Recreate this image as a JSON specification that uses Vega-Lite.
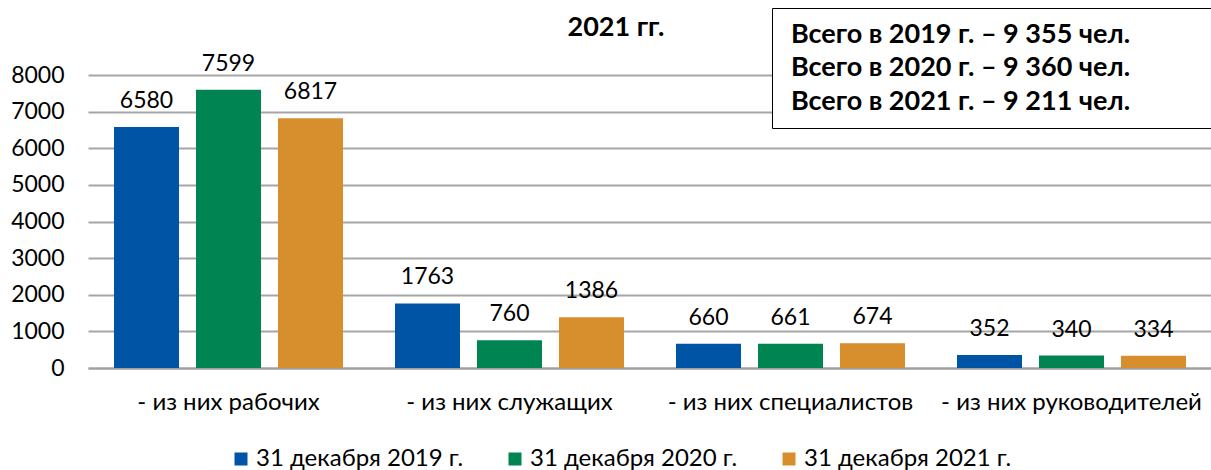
{
  "$schema": "https://vega.github.io/schema/vega-lite/v6.json",
  "width": 1124,
  "height": 293,
  "autosize": {"type": "none"},
  "padding": {"left": 88, "top": 75, "right": 0, "bottom": 102},
  "background": "white",
  "config": {
    "font": "Lato",
    "view": {"stroke": null},
    "legend": {"padding": 0}
  },
  "datasets": {
    "bars": [
      {"cat": "- из них рабочих", "series": "31 декабря 2019 г.", "value": 6580},
      {"cat": "- из них рабочих", "series": "31 декабря 2020 г.", "value": 7599},
      {"cat": "- из них рабочих", "series": "31 декабря 2021 г.", "value": 6817},
      {"cat": "- из них служащих", "series": "31 декабря 2019 г.", "value": 1763},
      {"cat": "- из них служащих", "series": "31 декабря 2020 г.", "value": 760},
      {"cat": "- из них служащих", "series": "31 декабря 2021 г.", "value": 1386},
      {"cat": "- из них специалистов", "series": "31 декабря 2019 г.", "value": 660},
      {"cat": "- из них специалистов", "series": "31 декабря 2020 г.", "value": 661},
      {"cat": "- из них специалистов", "series": "31 декабря 2021 г.", "value": 674},
      {"cat": "- из них руководителей", "series": "31 декабря 2019 г.", "value": 352},
      {"cat": "- из них руководителей", "series": "31 декабря 2020 г.", "value": 340},
      {"cat": "- из них руководителей", "series": "31 декабря 2021 г.", "value": 334}
    ],
    "notes": [
      {"note": "Всего в 2019 г. – 9 355 чел."},
      {"note": "Всего в 2020 г. – 9 360 чел."},
      {"note": "Всего в 2021 г. – 9 211 чел."}
    ]
  },
  "encoding": {
    "x": {
      "field": "cat", "type": "nominal", "sort": null,
      "scale": {
        "domain": ["- из них рабочих", "- из них служащих", "- из них специалистов", "- из них руководителей"],
        "paddingInner": 0.185, "paddingOuter": 0.0925
      },
      "axis": {
        "title": null, "labelAngle": 0, "labelFontSize": 24, "labelColor": "#000000",
        "labelPadding": 22, "ticks": false, "domainColor": "#a0a0a0", "domainWidth": 2,
        "labelLimit": 400
      }
    },
    "y": {
      "field": "value", "type": "quantitative",
      "scale": {"domain": [0, 8000], "nice": false},
      "axis": {
        "values": [0, 1000, 2000, 3000, 4000, 5000, 6000, 7000, 8000],
        "format": "d", "labelOverlap": false,
        "domain": false, "ticks": false, "labelFontSize": 23, "labelColor": "#000000",
        "labelPadding": 24, "gridColor": "#a6a6a6", "gridWidth": 2,
        "title": "2021 гг.", "titleAngle": 0, "titleX": 479, "titleY": -40,
        "titleAlign": "left", "titleBaseline": "alphabetic", "titleFontSize": 27,
        "titleFontWeight": "bold", "titleColor": "#000000"
      }
    }
  },
  "layer": [
    {
      "data": {"name": "bars"},
      "mark": {"type": "bar"},
      "encoding": {
        "xOffset": {"field": "series", "type": "nominal", "sort": null, "scale": {"paddingInner": 0.207}},
        "color": {
          "field": "series", "type": "nominal",
          "scale": {
            "domain": ["31 декабря 2019 г.", "31 декабря 2020 г.", "31 декабря 2021 г."],
            "range": ["#0054A5", "#008451", "#D68F2C"]
          },
          "legend": {
            "orient": "none", "legendX": 141, "legendY": 372, "direction": "horizontal",
            "title": null, "symbolType": "square", "symbolSize": 169, "symbolStrokeWidth": 0,
            "labelFontSize": 24, "labelColor": "#000000", "columnPadding": 39, "labelOffset": 3,
            "labelLimit": 400
          }
        }
      }
    },
    {
      "data": {"name": "bars"},
      "mark": {"type": "text", "baseline": "alphabetic", "dy": -19, "fontSize": 23, "color": "#000000"},
      "encoding": {
        "xOffset": {"field": "series", "type": "nominal", "sort": null},
        "text": {"field": "value", "type": "quantitative", "format": "d"}
      }
    },
    {
      "data": {"name": "notes"},
      "mark": {"type": "point", "opacity": 0},
      "encoding": {
        "shape": {
          "field": "note", "type": "nominal",
          "scale": {
            "domain": ["Всего в 2019 г. – 9 355 чел.", "Всего в 2020 г. – 9 360 чел.", "Всего в 2021 г. – 9 211 чел."]
          },
          "legend": {
            "orient": "none", "legendX": 684, "legendY": -67,
            "title": "\u00a0", "titleOrient": "right", "titlePadding": 120,
            "symbolSize": 0, "symbolOpacity": 0, "labelOffset": -21,
            "labelFontSize": 27, "labelFontWeight": "bold", "labelColor": "#000000",
            "labelLimit": 600, "rowPadding": 5.5, "padding": 13,
            "fillColor": "white", "strokeColor": "#000000",
            "encode": {
              "legend": {"update": {"strokeWidth": {"value": 2}}},
              "labels": {"update": {"dy": {"value": 9}}}
            }
          }
        }
      }
    }
  ]
}
